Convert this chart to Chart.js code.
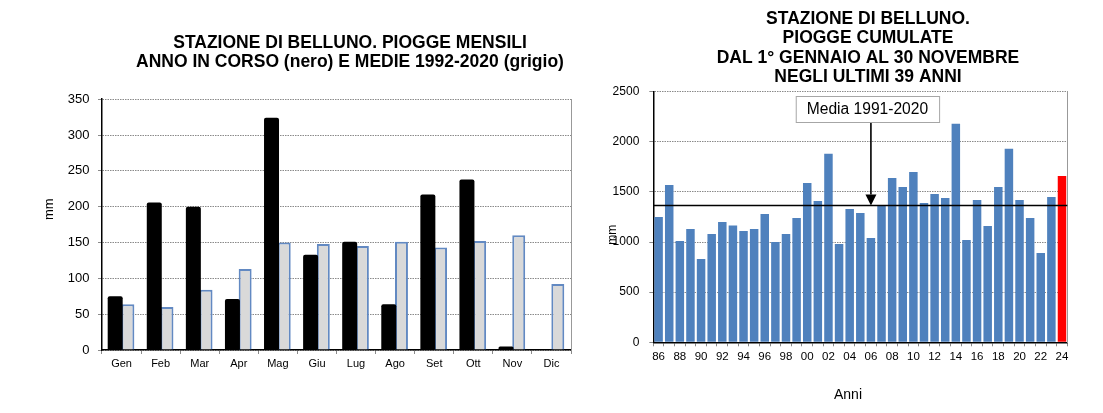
<!DOCTYPE html>
<html><head><meta charset="utf-8">
<script src="https://cdn.jsdelivr.net/npm/chart.js@4.4.1/dist/chart.umd.min.js"></script>
<style>
html,body{margin:0;padding:0;background:#fff;overflow:hidden;width:1103px;height:413px;}
#c1{position:absolute;left:0;top:0;}
#c2{position:absolute;left:590px;top:0;}
</style></head><body>
<canvas id="c1" width="700" height="413"></canvas>
<canvas id="c2" width="556" height="413"></canvas>
<script>
// ---------- DATA ----------
const months = ['Gen','Feb','Mar','Apr','Mag','Giu','Lug','Ago','Set','Ott','Nov','Dic'];
const currentYear = [75, 206, 200, 71, 324, 133, 151, 64, 217, 238, 5, null];
const mean19922020 = [64, 60, 84, 113, 150, 148, 145, 151, 143, 152, 160, 92];

const years = ['86','87','88','89','90','91','92','93','94','95','96','97','98','99',
  '00','01','02','03','04','05','06','07','08','09','10','11','12','13','14','15',
  '16','17','18','19','20','21','22','23','24'];
const cumulative = [1250, 1570, 1010, 1130, 830, 1080, 1200, 1165, 1110, 1130, 1280, 1000, 1080, 1240,
  1590, 1410, 1880, 980, 1330, 1290, 1040, 1360, 1640, 1550, 1700, 1390, 1480, 1440, 2180, 1020,
  1420, 1160, 1550, 1930, 1420, 1240, 890, 1450, 1660];
const media19912020 = 1365;
const arrowYear = '06';

const leftTitle = ['STAZIONE DI BELLUNO. PIOGGE MENSILI', 'ANNO IN CORSO (nero) E MEDIE 1992-2020 (grigio)'];
const rightTitle = ['STAZIONE DI BELLUNO.', 'PIOGGE CUMULATE', 'DAL 1\u00B0 GENNAIO AL 30 NOVEMBRE', 'NEGLI ULTIMI 39 ANNI'];
const mediaLabel = 'Media 1991-2020';
const yTitle = 'mm';
const xTitleRight = 'Anni';

// ---------- SETUP ----------
const FONT = '"Liberation Sans", Arial, sans-serif';
Chart.defaults.font.family = FONT;
Chart.defaults.color = '#000';
const GRID = '#8a8a8a';

const axisText = {
  id: 'axisText',
  afterDraw(chart, args, opts) {
    const ctx = chart.ctx, a = chart.chartArea;
    (opts.items || []).forEach(it => {
      ctx.save();
      ctx.fillStyle = '#000';
      ctx.font = it.font;
      ctx.textAlign = 'center';
      ctx.textBaseline = 'middle';
      ctx.translate(a.left + it.dx, (it.fromBottom ? a.bottom : a.top) + it.dy);
      if (it.rotate) ctx.rotate(-Math.PI / 2);
      ctx.fillText(it.text, 0, 0);
      ctx.restore();
    });
  }
};

const mediaPlugin = {
  id: 'mediaLine',
  afterDatasetsDraw(chart) {
    const {ctx, chartArea: a, scales: {x, y}} = chart;
    const yy = y.getPixelForValue(media19912020);
    ctx.save();
    ctx.strokeStyle = '#000';
    ctx.lineWidth = 1.5;
    ctx.beginPath(); ctx.moveTo(a.left, yy); ctx.lineTo(a.right, yy); ctx.stroke();
    const ax = x.getPixelForValue(years.indexOf(arrowYear));
    ctx.font = '15.6px ' + FONT;
    const w = ctx.measureText(mediaLabel).width;
    const bw = w + 22, bh = 26;
    const bx = ax - 3.5 - bw / 2, by = a.top + 4.3;
    ctx.fillStyle = '#fff';
    ctx.fillRect(bx, by, bw, bh);
    ctx.strokeStyle = '#a6a6a6'; ctx.lineWidth = 1;
    ctx.strokeRect(bx + 0.5, by + 0.5, bw, bh);
    ctx.fillStyle = '#000'; ctx.textAlign = 'center'; ctx.textBaseline = 'middle';
    ctx.fillText(mediaLabel, bx + bw / 2, by + bh / 2 + 1);
    // arrow
    const head = 11;
    ctx.strokeStyle = '#000'; ctx.lineWidth = 1.6;
    ctx.beginPath(); ctx.moveTo(ax, by + bh + 1); ctx.lineTo(ax, yy - head); ctx.stroke();
    ctx.beginPath(); ctx.moveTo(ax - 5.5, yy - head); ctx.lineTo(ax + 5.5, yy - head); ctx.lineTo(ax, yy); ctx.closePath();
    ctx.fill();
    ctx.restore();
  }
};

// ---------- LEFT CHART ----------
new Chart(document.getElementById('c1'), {
  type: 'bar',
  data: {
    labels: months,
    datasets: [
      { label: 'Anno in corso', data: currentYear, backgroundColor: '#000', borderWidth: 0,
        borderRadius: 2, categoryPercentage: 0.65, barPercentage: 1.18 },
      { label: 'Medie 1992-2020', data: mean19922020, backgroundColor: '#d9d9d9',
        borderColor: '#6289c2', borderWidth: 2, categoryPercentage: 0.65, barPercentage: 1.02 }
    ]
  },
  options: {
    responsive: false, animation: false,
    layout: { padding: 0 },
    plugins: {
      legend: { display: false }, tooltip: { enabled: false },
      title: { display: true, text: leftTitle, color: '#000',
        font: { size: 17.5, weight: 'bold', lineHeight: 1.1 }, padding: { top: 33.5, bottom: 27.2 } },
      axisText: { items: [ { text: yTitle, font: '13px ' + FONT, dx: -53, dy: 110, rotate: true } ] }
    },
    scales: {
      x: {
        grid: { offset: true, drawOnChartArea: false, drawTicks: true, tickLength: 4, color: GRID },
        border: { color: '#000', width: 1.5 },
        ticks: { font: { size: 11 }, color: '#000', padding: 3, maxRotation: 0 },
        afterFit: s => { s.height = 63; }
      },
      y: {
        min: 0, max: 350,
        ticks: { stepSize: 50, font: { size: 13 }, color: '#000', padding: 8.5, callback: v => String(v) },
        grid: { color: GRID, tickLength: 4, tickColor: GRID },
        border: { color: '#000', width: 1.5, dash: [1.5, 1] },
        afterFit: s => { s.width = 102; }
      },
      y2: {
        position: 'right', display: true,
        ticks: { display: false },
        grid: { drawOnChartArea: false, drawTicks: false },
        border: { display: true, color: '#999', width: 1 },
        afterFit: s => { s.width = 129; }
      }
    }
  },
  plugins: [axisText]
});

// ---------- RIGHT CHART ----------
new Chart(document.getElementById('c2'), {
  type: 'bar',
  data: {
    labels: years,
    datasets: [
      { label: 'Piogge cumulate', data: cumulative,
        backgroundColor: years.map((y, i) => i === years.length - 1 ? '#ff0000' : '#4f81bd'),
        borderWidth: 0, categoryPercentage: 1, barPercentage: 0.8 }
    ]
  },
  options: {
    responsive: false, animation: false,
    layout: { padding: 0 },
    plugins: {
      legend: { display: false }, tooltip: { enabled: false },
      title: { display: true, text: rightTitle, color: '#000',
        font: { size: 17.5, weight: 'bold', lineHeight: 1.1 }, padding: { top: 9.6, bottom: 5.1 } },
      axisText: { items: [
        { text: yTitle, font: '12px ' + FONT, dx: -40.3, dy: 143, rotate: true },
        { text: xTitleRight, font: '14px ' + FONT, dx: 194.7, dy: 52.7, fromBottom: true }
      ] }
    },
    scales: {
      x: {
        grid: { offset: true, drawOnChartArea: false, drawTicks: true, tickLength: 4, color: GRID },
        border: { color: '#000', width: 1.5 },
        ticks: { font: { size: 11.5 }, color: '#000', padding: 4, maxRotation: 0, autoSkip: false,
          callback: (v, i) => (i % 2 === 0 ? years[i] : '') },
        afterFit: s => { s.height = 70.7; }
      },
      y: {
        min: 0, max: 2500,
        ticks: { stepSize: 500, font: { size: 12 }, color: '#000', padding: 10, callback: v => String(v) },
        grid: { color: GRID, tickLength: 4, tickColor: GRID },
        border: { color: '#000', width: 1.5, dash: [1.5, 1] },
        afterFit: s => { s.width = 63.3; }
      },
      y2: {
        position: 'right', display: true,
        ticks: { display: false },
        grid: { drawOnChartArea: false, drawTicks: false },
        border: { display: true, color: '#999', width: 1 },
        afterFit: s => { s.width = 78.7; }
      }
    }
  },
  plugins: [axisText, mediaPlugin]
});
</script>
</body></html>
